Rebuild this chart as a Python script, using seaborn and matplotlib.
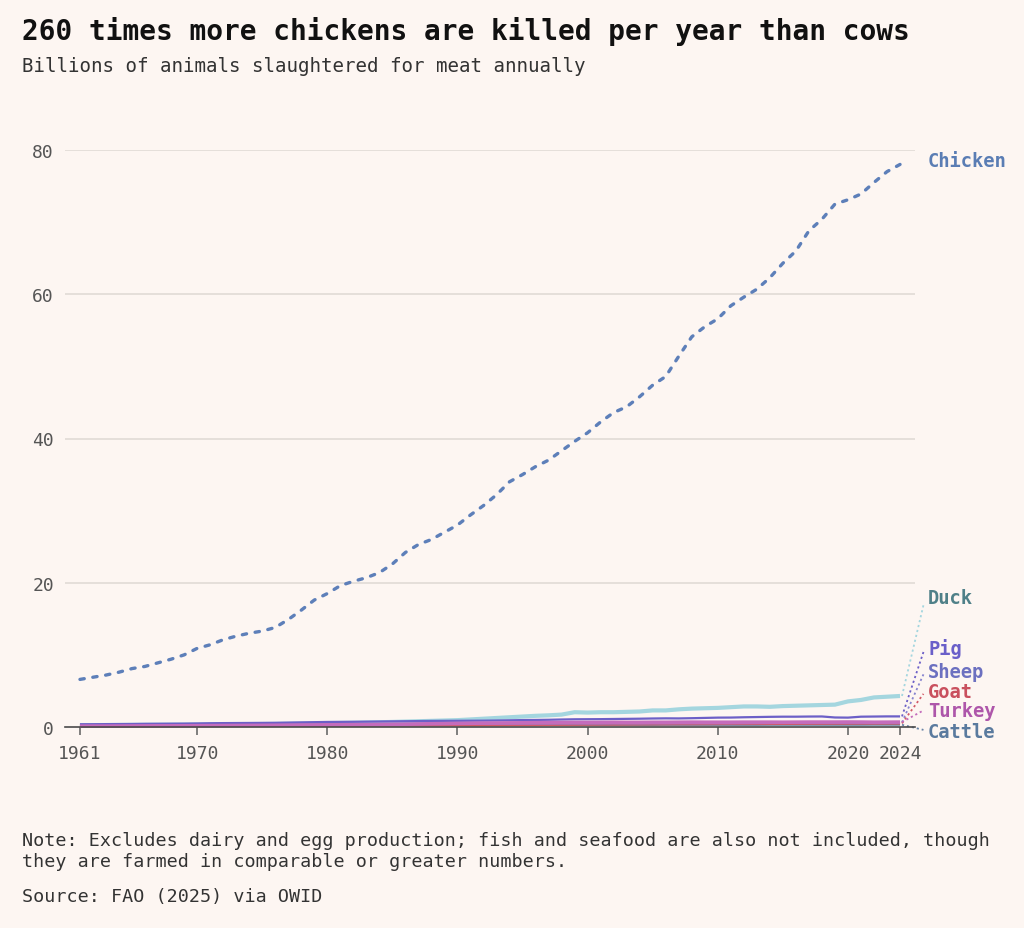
import matplotlib
matplotlib.use("Agg")
import matplotlib.pyplot as plt
import seaborn as sns
import pandas as pd

years = list(range(1961, 2025))

chicken = [6.6, 6.9, 7.2, 7.6, 8.1, 8.4, 8.9, 9.4, 10.0, 10.9,
           11.4, 12.1, 12.6, 13.0, 13.3, 13.8, 14.9, 16.2, 17.6, 18.5,
           19.6, 20.2, 20.7, 21.4, 22.6, 24.2, 25.3, 26.0, 27.0, 28.0,
           29.4, 30.7, 32.2, 34.0, 35.0, 36.1, 37.0, 38.3, 39.6, 40.8,
           42.3, 43.6, 44.4, 45.8, 47.4, 48.6, 51.4, 54.1, 55.5, 56.6,
           58.4, 59.6, 60.7, 62.3, 64.3, 66.0, 68.8, 70.4, 72.5, 73.1,
           73.9, 75.5, 77.0, 78.0]

duck = [0.25, 0.26, 0.27, 0.28, 0.29, 0.30, 0.31, 0.32, 0.33, 0.35,
        0.36, 0.37, 0.38, 0.40, 0.41, 0.43, 0.45, 0.47, 0.50, 0.53,
        0.56, 0.59, 0.62, 0.66, 0.70, 0.75, 0.80, 0.85, 0.90, 0.95,
        1.05, 1.15, 1.25, 1.35, 1.45, 1.55, 1.62, 1.72, 2.05, 2.00,
        2.05, 2.05, 2.10, 2.15, 2.30, 2.30, 2.45, 2.55, 2.60, 2.65,
        2.75, 2.85, 2.85, 2.80, 2.90, 2.95, 3.00, 3.05, 3.10, 3.55,
        3.75, 4.10, 4.20, 4.30]

pig = [0.37, 0.38, 0.40, 0.41, 0.42, 0.44, 0.45, 0.46, 0.47, 0.49,
       0.52, 0.54, 0.55, 0.56, 0.57, 0.58, 0.61, 0.64, 0.67, 0.70,
       0.71, 0.72, 0.74, 0.76, 0.78, 0.80, 0.82, 0.84, 0.85, 0.86,
       0.87, 0.88, 0.90, 0.93, 0.96, 0.98, 1.00, 1.04, 1.07, 1.08,
       1.09, 1.11, 1.13, 1.15, 1.18, 1.20, 1.19, 1.22, 1.26, 1.30,
       1.31, 1.35, 1.38, 1.41, 1.43, 1.43, 1.45, 1.46, 1.32, 1.30,
       1.43, 1.45, 1.47, 1.47]

sheep = [0.33, 0.33, 0.33, 0.34, 0.34, 0.35, 0.35, 0.36, 0.36, 0.37,
         0.37, 0.37, 0.37, 0.37, 0.38, 0.39, 0.39, 0.40, 0.40, 0.41,
         0.41, 0.42, 0.42, 0.43, 0.43, 0.44, 0.45, 0.46, 0.47, 0.48,
         0.48, 0.48, 0.48, 0.48, 0.49, 0.49, 0.49, 0.50, 0.50, 0.50,
         0.50, 0.51, 0.51, 0.51, 0.52, 0.52, 0.53, 0.53, 0.53, 0.53,
         0.53, 0.54, 0.55, 0.56, 0.57, 0.58, 0.59, 0.60, 0.61, 0.61,
         0.62, 0.63, 0.63, 0.64]

goat = [0.13, 0.13, 0.14, 0.14, 0.14, 0.15, 0.15, 0.15, 0.16, 0.16,
        0.16, 0.17, 0.17, 0.17, 0.18, 0.18, 0.19, 0.19, 0.20, 0.20,
        0.20, 0.21, 0.21, 0.22, 0.22, 0.23, 0.23, 0.24, 0.24, 0.25,
        0.25, 0.26, 0.27, 0.28, 0.29, 0.30, 0.31, 0.32, 0.33, 0.34,
        0.35, 0.35, 0.36, 0.37, 0.38, 0.39, 0.40, 0.40, 0.41, 0.42,
        0.43, 0.43, 0.44, 0.44, 0.45, 0.46, 0.47, 0.47, 0.48, 0.48,
        0.49, 0.49, 0.50, 0.50]

turkey = [0.11, 0.12, 0.12, 0.13, 0.14, 0.15, 0.16, 0.16, 0.17, 0.18,
          0.19, 0.20, 0.21, 0.22, 0.23, 0.24, 0.25, 0.27, 0.28, 0.30,
          0.31, 0.32, 0.33, 0.35, 0.37, 0.39, 0.42, 0.45, 0.47, 0.50,
          0.52, 0.54, 0.55, 0.57, 0.58, 0.60, 0.61, 0.62, 0.63, 0.63,
          0.64, 0.65, 0.64, 0.64, 0.65, 0.65, 0.66, 0.67, 0.66, 0.66,
          0.66, 0.67, 0.67, 0.67, 0.66, 0.67, 0.68, 0.68, 0.68, 0.69,
          0.68, 0.66, 0.67, 0.68]

cattle = [0.17, 0.17, 0.18, 0.18, 0.18, 0.19, 0.19, 0.19, 0.20, 0.20,
          0.20, 0.20, 0.20, 0.21, 0.22, 0.23, 0.23, 0.23, 0.22, 0.22,
          0.22, 0.23, 0.23, 0.23, 0.24, 0.24, 0.24, 0.24, 0.25, 0.25,
          0.25, 0.25, 0.25, 0.26, 0.26, 0.26, 0.27, 0.27, 0.27, 0.27,
          0.27, 0.28, 0.28, 0.28, 0.28, 0.29, 0.29, 0.29, 0.29, 0.29,
          0.29, 0.29, 0.29, 0.30, 0.30, 0.30, 0.30, 0.30, 0.30, 0.30,
          0.30, 0.31, 0.31, 0.31]

series_names = ["Chicken", "Duck", "Pig", "Sheep", "Goat", "Turkey", "Cattle"]
series_values = [chicken, duck, pig, sheep, goat, turkey, cattle]

xtick_years = [1961, 1970, 1980, 1990, 2000, 2010, 2020, 2024]
ytick_values = [0, 20, 40, 60, 80]

title = "260 times more chickens are killed per year than cows"
subtitle = "Billions of animals slaughtered for meat annually"
note1 = "Note: Excludes dairy and egg production; fish and seafood are also not included, though"
note2 = "they are farmed in comparable or greater numbers."
source = "Source: FAO (2025) via OWID"

# ---- styles ----
BG = "#fdf6f2"
line_colors = {"Chicken": "#5d7fb9", "Duck": "#a4d6df", "Pig": "#6c5fc7",
               "Sheep": "#8784cf", "Goat": "#d25a68", "Turkey": "#c46cbc",
               "Cattle": "#6884a6"}
text_colors = {"Chicken": "#5a7db4", "Duck": "#4f8088", "Pig": "#6a5fc9",
               "Sheep": "#6c70c0", "Goat": "#c9505e", "Turkey": "#ae56aa",
               "Cattle": "#5a7a9e"}
line_widths = {"Chicken": 2.4, "Duck": 3.0, "Pig": 1.6, "Sheep": 1.6,
               "Goat": 1.8, "Turkey": 2.6, "Cattle": 1.4}
label_y = {"Chicken": 78.6, "Duck": 17.9, "Pig": 10.95, "Sheep": 7.76,
           "Goat": 4.99, "Turkey": 2.22, "Cattle": -0.69}
connector_y = {"Duck": 16.9, "Pig": 10.4, "Sheep": 7.3, "Goat": 4.6,
               "Turkey": 2.3, "Cattle": -0.4}
draw_order = ["Duck", "Cattle", "Goat", "Sheep", "Pig", "Turkey", "Chicken"]

sns.set_theme(style="white")
plt.rcParams["font.family"] = ["DejaVu Sans Mono", "DejaVu Sans"]

fig = plt.figure(figsize=(10.24, 9.29), dpi=100, facecolor=BG)
ax = fig.add_axes([65 / 1024, 1 - 728 / 929, 850 / 1024, 577 / 929])
ax.set_facecolor(BG)

rows = []
for name, vals in zip(series_names, series_values):
    for y, v in zip(years, vals):
        rows.append({"year": y, "value": v, "animal": name})
df = pd.DataFrame(rows)

for g in [20, 40, 60, 80]:
    ax.axhline(g, color="#e1dbd6", lw=1.2, zorder=0)

for name in draw_order:
    sub = df[df["animal"] == name]
    ls = (0, (1.3, 2.6)) if name == "Chicken" else "-"
    sns.lineplot(data=sub, x="year", y="value", ax=ax, color=line_colors[name],
                 lw=line_widths[name], linestyle=ls, zorder=3, clip_on=False,
                 solid_capstyle="butt", dash_capstyle="round")

# labels and connectors
x_end = years[-1]
for name, vals in zip(series_names, series_values):
    if name != "Chicken":
        ax.plot([x_end + 0.15, 2025.8], [vals[-1], connector_y[name]],
                color=line_colors[name], lw=1.3, linestyle=(0, (1.2, 1.6)),
                clip_on=False, zorder=2)
    ax.text(2026.15, label_y[name], name, color=text_colors[name],
            fontsize=13.5, fontweight="bold", va="center", ha="left",
            clip_on=False)

ax.set_xlim(1959.85, 2025.15)
ax.set_ylim(0, 80)
ax.set_xticks(xtick_years)
ax.set_xticklabels([str(y) for y in xtick_years])
ax.set_yticks(ytick_values)
ax.set_yticklabels([str(v) for v in ytick_values])
ax.set_xlabel("")
ax.set_ylabel("")
for s in ["top", "right", "left"]:
    ax.spines[s].set_visible(False)
ax.spines["bottom"].set_color("#4a4a4a")
ax.spines["bottom"].set_linewidth(1.2)
ax.spines["bottom"].set_zorder(4)
ax.tick_params(axis="x", direction="out", length=6, width=1.2, color="#6a6a6a",
               labelsize=13, labelcolor="#555555", pad=6, bottom=True)
ax.tick_params(axis="y", length=0, labelsize=13, labelcolor="#555555", pad=8)

fig.text(22 / 1024, 1 - 31 / 929, title, fontsize=20, fontweight="bold",
         color="#111111", va="center", ha="left")
fig.text(22 / 1024, 1 - 67 / 929, subtitle, fontsize=13.8, color="#333333",
         va="center", ha="left")
fig.text(22 / 1024, 1 - 841 / 929, note1, fontsize=13.2, color="#333333",
         va="center", ha="left")
fig.text(22 / 1024, 1 - 862 / 929, note2, fontsize=13.2, color="#333333",
         va="center", ha="left")
fig.text(22 / 1024, 1 - 897 / 929, source, fontsize=13.2, color="#333333",
         va="center", ha="left")

fig.savefig("out.png", dpi=100, facecolor=BG)
